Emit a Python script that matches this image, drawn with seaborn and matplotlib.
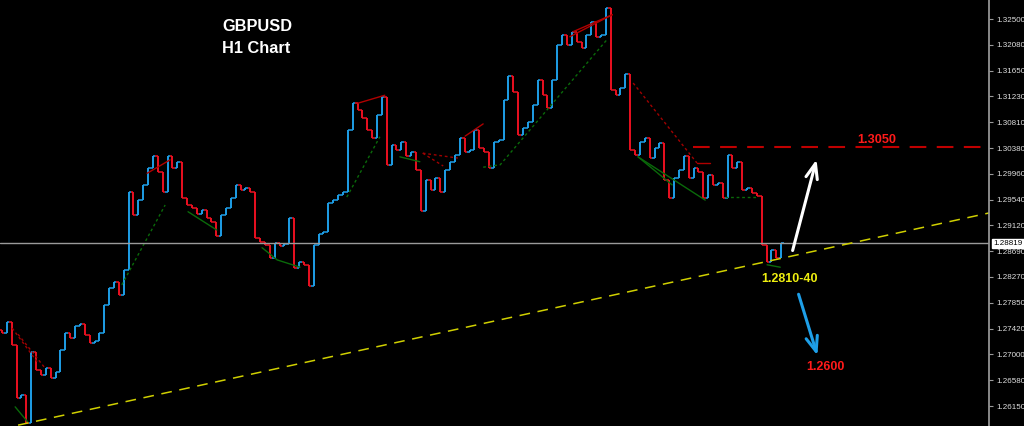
import matplotlib
matplotlib.use("Agg")
import matplotlib.pyplot as plt
import seaborn as sns
import numpy as np
import pandas as pd

# H1 closes from left to right
closes = [
    1.2735, 1.2753, 1.2715, 1.2628, 1.2633, 1.2587, 1.2704, 1.2674, 1.2666, 1.2678,
    1.2661, 1.2671, 1.2707, 1.2735, 1.2727, 1.2747, 1.2750, 1.2732, 1.2719, 1.2722,
    1.2735, 1.2781, 1.2809, 1.2819, 1.2797, 1.2838,
    1.2966, 1.2929, 1.2953, 1.2978, 1.3006, 1.3025, 1.2999, 1.2966, 1.3025, 1.3006,
    1.3015, 1.2956, 1.2945, 1.2940, 1.2930, 1.2937, 1.2924, 1.2917, 1.2894, 1.2929,
    1.2940, 1.2956, 1.2978, 1.2970, 1.2973, 1.2966,
    1.2891, 1.2884, 1.2879, 1.2858, 1.2883, 1.2878, 1.2881, 1.2924, 1.2842, 1.2851,
    1.2847, 1.2812, 1.2879, 1.2897, 1.2901, 1.2948, 1.2953, 1.2961, 1.2966,
    1.3068, 1.3112, 1.3101, 1.3088, 1.3068, 1.3055, 1.3093, 1.3122, 1.3011, 1.3043,
    1.3035, 1.3048, 1.3025, 1.3032, 1.3002, 1.2935, 1.2986, 1.2970, 1.2989, 1.2966,
    1.3002, 1.3015, 1.3027, 1.3055, 1.3032, 1.3035, 1.3068, 1.3038, 1.3032, 1.3006,
    1.3048, 1.3052, 1.3117, 1.3157, 1.3130, 1.3060, 1.3071, 1.3081, 1.3109, 1.3150,
    1.3125, 1.3104, 1.3150,
    1.3207, 1.3224, 1.3207, 1.3229, 1.3212, 1.3202, 1.3224, 1.3245, 1.3221, 1.3224,
    1.3268, 1.3134, 1.3125, 1.3137, 1.3160, 1.3035, 1.3027, 1.3048, 1.3055, 1.3022,
    1.3038, 1.3047, 1.2986, 1.2956, 1.2989, 1.3002, 1.3025, 1.2989, 1.3006, 1.2999,
    1.2956, 1.2994, 1.2978, 1.2981, 1.2956, 1.3027, 1.3006, 1.3015, 1.2970, 1.2973,
    1.2965, 1.2960, 1.2879, 1.2851, 1.2871, 1.2858, 1.2882,
]
first_open = 1.2740

price_ticks = [1.32500, 1.32080, 1.31650, 1.31230, 1.30810, 1.30380, 1.29960, 1.29540,
               1.29120, 1.28690, 1.28270, 1.27850, 1.27420, 1.27000, 1.26580, 1.26150]
last_price = 1.28819

# support trendline and resistance level
trend_bars = [3.3, 202.7]
trend_prices = [1.2584, 1.2932]
level_bars = [141.9, 202.7]
level_price = 1.3040

# zigzag / fractal indicator segments (bar, price)
red_dotted = [
    [(2.1, 1.2743), (7.4, 1.2686)],
    [(3.3, 1.2733), (8.8, 1.2678)],
    [(86.4, 1.3030), (93.6, 1.3022)],
    [(86.4, 1.3030), (90.6, 1.3009)],
    [(129.6, 1.3145), (142.7, 1.3014)],
]
red_solid = [
    [(29.8, 1.2997), (34.5, 1.3019)],
    [(73.1, 1.3112), (78.6, 1.3125)],
    [(95.1, 1.3058), (98.8, 1.3078)],
    [(116.6, 1.3221), (125.3, 1.3257)],
    [(117.2, 1.3229), (125.3, 1.3257)],
    [(142.7, 1.3014), (145.4, 1.3014)],
]
green_dotted = [
    [(24.6, 1.2814), (33.5, 1.2945)],
    [(70.8, 1.2958), (77.6, 1.3057)],
    [(98.8, 1.3007), (102.3, 1.3011), (124.2, 1.3216)],
    [(148.5, 1.2958), (155.0, 1.2958)],
]
green_solid = [
    [(2.7, 1.2614), (5.3, 1.2589)],
    [(38.2, 1.2934), (44.1, 1.2904)],
    [(53.4, 1.2875), (56.5, 1.2855), (61.2, 1.2843)],
    [(81.7, 1.3024), (85.8, 1.3016)],
    [(130.6, 1.3024), (144.4, 1.2953)],
    [(130.6, 1.3024), (137.6, 1.2978)],
    [(157.1, 1.2847), (159.8, 1.2843)],
]

sns.set_theme(style="dark", rc={"axes.facecolor": "black", "figure.facecolor": "black"})
plt.rcParams['font.family'] = ['Liberation Sans', 'DejaVu Sans']

fig = plt.figure(figsize=(10.24, 4.26), dpi=100)
ax = fig.add_axes([0, 0, 989 / 1024, 1])

# OHLC bars: vertical range plus open tick on the left and close tick on the right
opens = [first_open] + closes[:-1]
bars = pd.DataFrame({"bar": np.arange(len(closes)), "open": opens, "close": closes})
bars["colour"] = np.where(bars["close"] >= bars["open"], "#1e9fe8", "#ec1020")
ax.vlines(bars["bar"], bars[["open", "close"]].min(axis=1),
          bars[["open", "close"]].max(axis=1), colors=bars["colour"], lw=1.4)
ax.hlines(bars["open"], bars["bar"] - 0.5, bars["bar"], colors=bars["colour"], lw=1.1)
ax.hlines(bars["close"], bars["bar"], bars["bar"] + 0.5, colors=bars["colour"], lw=1.1)

# indicator lines
for seg in red_dotted:
    xs, ys = zip(*seg)
    ax.plot(xs, ys, color="#a00000", lw=1, ls=(0, (2, 2)))
for seg in red_solid:
    xs, ys = zip(*seg)
    ax.plot(xs, ys, color="#b00000", lw=1)
for seg in green_dotted:
    xs, ys = zip(*seg)
    ax.plot(xs, ys, color="#0a6a0a", lw=1, ls=(0, (2, 2)))
for seg in green_solid:
    xs, ys = zip(*seg)
    ax.plot(xs, ys, color="#0a6a0a", lw=1)

# current price, trendline, target level
ax.axhline(last_price, color="#9a9a9a", lw=1)
sns.lineplot(x=trend_bars, y=trend_prices, ax=ax, color="#d0d000", lw=1.1,
             linestyle=(0, (7, 5)))
sns.lineplot(x=level_bars, y=[level_price, level_price], ax=ax, color="#c00000",
             lw=1.5, linestyle=(0, (8, 5)))

# annotations
ax.text(0.2245, 0.937, "GBPUSD", transform=ax.transAxes, color="white",
        fontsize=11.8, fontweight="bold", ha="left", va="center")
ax.text(0.2245, 0.887, "H1 Chart", transform=ax.transAxes, color="white",
        fontsize=11.8, fontweight="bold", ha="left", va="center")
ax.text(179.7, 1.3052, "1.3050", color="#ff1a1a", fontsize=9.2, fontweight="bold",
        ha="center", va="center")
ax.text(161.8, 1.2824, "1.2810-40", color="#eeee10", fontsize=9, fontweight="bold",
        ha="center", va="center")
ax.text(169.0, 1.2679, "1.2600", color="#ff1a1a", fontsize=9, fontweight="bold",
        ha="center", va="center")
ax.annotate("", xy=(167.4, 1.3024), xytext=(162.2, 1.2866),
            arrowprops=dict(arrowstyle="->,head_length=0.9,head_width=0.35",
                            color="white", lw=2.2))
ax.annotate("", xy=(167.6, 1.2694), xytext=(163.4, 1.2803),
            arrowprops=dict(arrowstyle="->,head_length=0.9,head_width=0.35",
                            color="#1e9fe8", lw=2.2))

ax.set_xlim(-0.41, 202.67)
ax.set_ylim(1.25826, 1.32812)
ax.set_xticks([])
ax.yaxis.tick_right()
ax.set_yticks(price_ticks)
ax.set_yticklabels([f"{p:.5f}" for p in price_ticks])
ax.tick_params(axis="y", colors="#e0e0e0", labelsize=5.8, length=3, width=0.8,
               pad=2, direction="out", right=True)
ax.tick_params(axis="y", which="both", color="#9a9a9a")
for name, spine in ax.spines.items():
    spine.set_visible(name == "right")
ax.spines["right"].set_color("#9a9a9a")
ax.grid(False)

ax.annotate(f"{last_price:.5f}", xy=(1.0, last_price), xycoords=("axes fraction", "data"),
            xytext=(3, 0), textcoords="offset points", color="black", fontsize=5.8,
            va="center", ha="left",
            bbox=dict(boxstyle="square,pad=0.15", fc="white", ec="white"))

fig.savefig("out.png", dpi=100, facecolor="black")
